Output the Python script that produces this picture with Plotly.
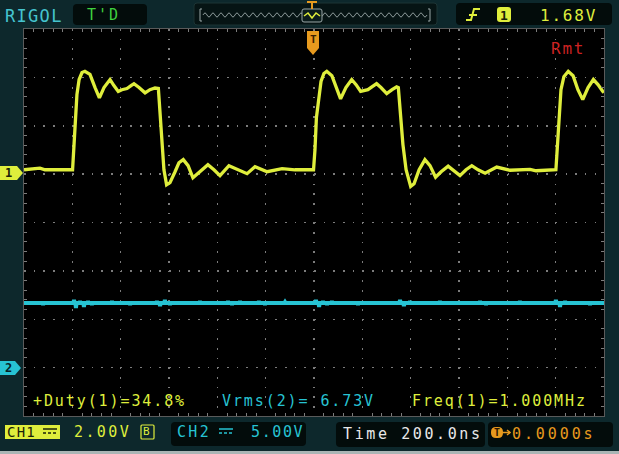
import plotly.graph_objects as go

# CH1 waveform (time in ns relative to trigger, volts)
ch1_time_ns = [-1200, -1134, -1113, -999, -993, -987, -981, -972, -960, -948, -927, -906, -888,
               -869, -844, -828, -810, -795, -774, -757, -745, -724, -699, -679, -658, -644,
               -637, -630, -621, -610, -596, -575, -559, -541, -521, -501, -472, -439, -414,
               -389, -352, -314, -277, -244, -194, -132, -79, -2,
               4, 10, 18, 29, 41, 53, 74, 95, 110, 132, 156, 174, 193, 223, 259, 277, 301,
               323, 342, 349, 358, 368, 381, 400, 414, 435, 459, 480, 503, 526, 555, 579,
               604, 629, 653, 679, 708, 756, 811, 894, 919, 1001,
               1008, 1014, 1022, 1034, 1052, 1072, 1092, 1112, 1134, 1156, 1175, 1195, 1200]
ch1_volts = [0.12, 0.19, 0.12, 0.12, 1.16, 2.32, 3.23, 3.85, 4.14, 4.19, 4.06, 3.52, 3.09,
             3.52, 3.85, 3.60, 3.36, 3.43, 3.48, 3.60, 3.68, 3.52, 3.30, 3.43, 3.50, 3.48,
             2.40, 1.24, 0.12, -0.50, -0.41, 0.04, 0.41, 0.54, 0.29, -0.21, 0.04, 0.33, 0.12,
             -0.12, 0.29, 0.12, -0.04, 0.25, 0.04, 0.17, 0.12, 0.12,
             0.95, 2.28, 3.02, 3.77, 4.10, 4.19, 4.01, 3.43, 3.05, 3.52, 3.85, 3.64, 3.36,
             3.43, 3.68, 3.52, 3.27, 3.43, 3.55, 3.52, 2.40, 1.16, 0.12, -0.57, -0.46, 0.12,
             0.54, 0.29, -0.19, 0.04, 0.27, 0.08, -0.12, 0.12, 0.29, 0.12, -0.02, 0.23, 0.10,
             0.14, 0.08, 0.12,
             1.37, 2.61, 3.43, 3.97, 4.19, 4.01, 3.43, 3.02, 3.52, 3.85, 3.64, 3.36, 3.31]

# CH2: flat DC level with small coupled noise spikes
ch2_level_v = 6.73
ch2_spike_time_ns = [-1121, -993, -985, -968, -952, -935, -919, -836, -761, -650, -637, -617,
                     -596, -472, -356, -339, -306, -228, -203, -120, 8, 21, 37, 54, 74, 182,
                     356, 372, 397, 521, 687, 712, 852, 1001, 1018, 1039, 1142]
ch2_spike_volts = [6.52, 7.04, 6.21, 6.94, 6.32, 6.94, 6.52, 6.94, 6.52, 6.94, 6.42, 7.04,
                   6.52, 6.94, 6.94, 6.52, 6.94, 6.94, 6.52, 6.83, 7.04, 6.32, 6.94, 6.52, 6.94,
                   6.52, 7.04, 6.42, 6.94, 6.94, 6.94, 6.52, 6.94, 7.04, 6.32, 6.94, 6.52]

# scope settings
ch1_v_per_div = 2.0
ch2_v_per_div = 5.0
ch1_offset_div = 1.03
ch2_offset_div = -3.01
time_per_div_ns = 200
n_hdiv = 12
n_vdiv = 8

# screen texts
txt_brand = "RIGOL"
txt_state = "T'D"
txt_trig_level = "1.68V"
txt_remote = "Rmt"
txt_duty = "+Duty(1)=34.8%"
txt_vrms = "Vrms(2)= 6.73V"
txt_freq = "Freq(1)=1.000MHz"
txt_ch1_scale = "2.00V"
txt_ch2_scale = "5.00V"
txt_timebase = "Time 200.0ns"
txt_trig_pos = "0.0000s"

# ---------------- geometry / colours ----------------
W, H = 619, 454
ML, MR, MT, MB = 24, 15, 29, 38
PW = W - ML - MR
PH = H - MT - MB

BG = "#0d282c"
YEL = "#dfee3c"
CYAN = "#27c3d3"
ORANGE = "#e79a1e"
GREEN = "#3fd13f"
RED = "#cc2222"
GRID = "#7c7c7c"
MONO = "DejaVu Sans Mono"


def px(x):
    return (x - ML) / PW


def py(y):
    return (H - MB - y) / PH


def path(points, close=True):
    s = "M " + " L ".join(f"{px(x):.5f},{py(y):.5f}" for x, y in points)
    return s + (" Z" if close else "")


def rrect(x0, y0, x1, y1, r=3):
    p = [
        f"M {px(x0 + r):.5f},{py(y0):.5f}",
        f"L {px(x1 - r):.5f},{py(y0):.5f}",
        f"Q {px(x1):.5f},{py(y0):.5f} {px(x1):.5f},{py(y0 + r):.5f}",
        f"L {px(x1):.5f},{py(y1 - r):.5f}",
        f"Q {px(x1):.5f},{py(y1):.5f} {px(x1 - r):.5f},{py(y1):.5f}",
        f"L {px(x0 + r):.5f},{py(y1):.5f}",
        f"Q {px(x0):.5f},{py(y1):.5f} {px(x0):.5f},{py(y1 - r):.5f}",
        f"L {px(x0):.5f},{py(y0 + r):.5f}",
        f"Q {px(x0):.5f},{py(y0):.5f} {px(x0 + r):.5f},{py(y0):.5f} Z",
    ]
    return " ".join(p)


shapes = []
annotations = []


def add_path(p, fill=None, line=None, lw=1):
    shapes.append(dict(type="path", path=p, xref="paper", yref="paper",
                       fillcolor=fill if fill else "rgba(0,0,0,0)",
                       line=dict(color=line if line else "rgba(0,0,0,0)", width=lw if line else 0),
                       layer="above"))


def add_text(s, x, y, color, size=15, ls=1.9, anchor="left", family=MONO, bold=False):
    body = f"<b>{s}</b>" if bold else s
    annotations.append(dict(text=f'<span style="letter-spacing:{ls}px">{body}</span>',
                            x=px(x), y=py(y), xref="paper", yref="paper",
                            xanchor=anchor, yanchor="middle", showarrow=False,
                            borderpad=0, borderwidth=0,
                            font=dict(color=color, size=size, family=family)))


# ---------------- traces ----------------
ch1_y = [v / ch1_v_per_div + ch1_offset_div for v in ch1_volts]

ch2_t = [-time_per_div_ns * n_hdiv / 2]
ch2_v = [ch2_level_v]
for t, v in zip(ch2_spike_time_ns, ch2_spike_volts):
    ch2_t += [t - 2.5, t, t + 2.5]
    ch2_v += [ch2_level_v, v, ch2_level_v]
ch2_t.append(time_per_div_ns * n_hdiv / 2)
ch2_v.append(ch2_level_v)
ch2_y = [v / ch2_v_per_div + ch2_offset_div for v in ch2_v]

fig = go.Figure()
fig.add_trace(go.Scatter(x=ch2_t, y=ch2_y, mode="lines", line=dict(color=CYAN, width=4),
                         hoverinfo="skip", showlegend=False))
fig.add_trace(go.Scatter(x=ch1_time_ns, y=ch1_y, mode="lines", line=dict(color=YEL, width=3.3),
                         hoverinfo="skip", showlegend=False))

# ---------------- decorations ----------------
# top: state box
add_path(rrect(73, 4, 147, 25, 4), fill="#030c0b")
# memory bar box
add_path(rrect(194, 3, 437, 25, 3), fill="#061414", line="#1d3434")
add_path(path([(202, 9), (200, 9), (200, 21), (202, 21)], close=False), line="#9aa7a7", lw=1)
add_path(path([(428, 9), (430, 9), (430, 21), (428, 21)], close=False), line="#9aa7a7", lw=1)
wave = [f"M {px(203):.5f},{py(15):.5f}"]
xw = 203
up = True
while xw < 427:
    yc = 11 if up else 19
    wave.append(f"Q {px(xw + 2):.5f},{py(yc):.5f} {px(xw + 4):.5f},{py(15):.5f}")
    xw += 4
    up = not up
add_path(" ".join(wave), line="#8d9a9a", lw=1)
add_path(rrect(302, 9, 322, 22, 2), fill="#0b1c1c", line="#9aa7a7", lw=1)
add_path(path([(304, 16), (308, 13), (312, 18), (316, 13), (320, 16)], close=False), line=YEL, lw=1.5)
add_path(path([(307, 1), (317, 1), (317, 3), (313, 3), (313, 9), (311, 9), (311, 3), (307, 3)]), fill=ORANGE)
# trigger box
add_path(rrect(456, 3, 612, 25, 4), fill="#030c0b")
add_path(path([(466, 20), (471, 20), (474, 9), (480, 9)], close=False), line=YEL, lw=2)
add_path(path([(469, 15), (477, 15)], close=False), line=YEL, lw=2)
add_path(rrect(497, 7, 511, 22, 3), fill=YEL)
add_text("1", 504, 15, "#1b2208", size=13, ls=0, anchor="center", bold=True)

# trigger position marker on the grid top
add_path(path([(307, 31), (319, 31), (319, 48), (313, 55), (307, 48)]), fill=ORANGE)
add_text("T", 313, 40, "#3a2000", size=11, ls=0, anchor="center", bold=True)

# channel ground markers
add_path(path([(0, 166), (17, 166), (23, 173), (17, 180), (0, 180)]), fill=YEL)
add_text("1", 8, 173, "#1b2208", size=12, ls=0, anchor="center", bold=True)
add_path(path([(0, 361), (15, 361), (21, 368), (15, 375), (0, 375)]), fill=CYAN)
add_text("2", 8, 368, "#062226", size=12, ls=0, anchor="center", bold=True)

# bottom bar boxes
add_path(path([(5, 425), (60, 425), (60, 439), (5, 439)]), fill=YEL)
add_text("CH1", 7, 432, "#1b2208", size=14, ls=1.2)
add_path(path([(43, 429), (57, 429)], close=False), line="#1b2208", lw=1.5)
for xd in (43, 48, 53):
    add_path(path([(xd, 433), (xd + 3, 433)], close=False), line="#1b2208", lw=1.5)
add_path(rrect(141, 425, 154, 439, 1), line=YEL, lw=1.2)
add_text("B", 143, 432, YEL, size=11, ls=0)
add_path(rrect(171, 422, 306, 446, 4), fill="#030c0b")
add_path(path([(219, 429), (233, 429)], close=False), line=CYAN, lw=1.5)
for xd in (219, 224, 229):
    add_path(path([(xd, 433), (xd + 3, 433)], close=False), line=CYAN, lw=1.5)
add_path(rrect(336, 422, 485, 447, 4), fill="#030c0b")
add_path(rrect(488, 422, 613, 447, 4), fill="#030c0b")
add_path(rrect(491, 427, 503, 438, 5), fill=ORANGE)
add_text("T", 497, 432.5, "#2a1500", size=10, ls=0, anchor="center", bold=True)
add_path(path([(502, 432.5), (510, 432.5)], close=False), line=ORANGE, lw=1.5)
add_path(path([(507, 430), (510, 432.5), (507, 435)], close=False), line=ORANGE, lw=1.5)

# bottom light strip
shapes.append(dict(type="rect", xref="paper", yref="paper", x0=px(0), x1=px(W), y0=py(454), y1=py(451),
                   fillcolor="#aab5b5", line=dict(width=0), layer="above"))

# texts
add_text(txt_brand, 5, 16, "#45c4cf", size=17, ls=1.3)
add_text(txt_state, 87, 15, GREEN, size=15, ls=2.0)
add_text(txt_trig_level, 540, 15, YEL, size=16, ls=1.8)
add_text(txt_remote, 551, 48, RED, size=16, ls=1.8)
add_text(txt_duty, 33, 401, YEL, size=15, ls=1.9)
add_text(txt_vrms, 222, 401, CYAN, size=15, ls=1.9)
add_text(txt_freq, 412, 401, YEL, size=15, ls=1.9)
add_text(txt_ch1_scale, 74, 432, YEL, size=15, ls=2.4)
add_text("CH2", 177, 432, CYAN, size=15, ls=2.3)
add_text(txt_ch2_scale, 251, 432, CYAN, size=15, ls=1.6)
add_text(txt_timebase, 343, 434, "#e8e8e8", size=15, ls=2.6)
add_text(txt_trig_pos, 512, 434, ORANGE, size=15, ls=2.9)

half_t = time_per_div_ns * n_hdiv / 2
fig.update_layout(
    width=W, height=H, template="none",
    margin=dict(l=ML, r=MR, t=MT, b=MB, pad=0),
    paper_bgcolor=BG, plot_bgcolor="#000000",
    showlegend=False,
    shapes=shapes, annotations=annotations,
    xaxis=dict(range=[-half_t, half_t], dtick=time_per_div_ns, tick0=0, showgrid=True,
               gridcolor=GRID, gridwidth=1.5, griddash="1.5px,8.17px", zeroline=False,
               showticklabels=False, showline=True, linecolor="#5a5a5a", linewidth=1,
               mirror="allticks", ticks="inside", ticklen=0, tickcolor=GRID,
               minor=dict(dtick=time_per_div_ns / 5, ticks="inside", ticklen=3, tickcolor=GRID,
                          showgrid=False),
               fixedrange=True),
    yaxis=dict(range=[-n_vdiv / 2, n_vdiv / 2], dtick=1, tick0=0, showgrid=True,
               gridcolor=GRID, gridwidth=1.5, griddash="1.5px,8.17px", zeroline=False,
               showticklabels=False, showline=True, linecolor="#5a5a5a", linewidth=1,
               mirror="allticks", ticks="inside", ticklen=0, tickcolor=GRID,
               minor=dict(dtick=0.2, ticks="inside", ticklen=3, tickcolor=GRID, showgrid=False),
               fixedrange=True),
)

fig.write_html(
    "out.html",
    config={"displayModeBar": False, "staticPlot": True},
    post_script="document.body.style.margin='0';document.body.style.padding='0';"
                "document.body.style.overflow='hidden';"
                "document.body.style.background='" + BG + "';",
)
